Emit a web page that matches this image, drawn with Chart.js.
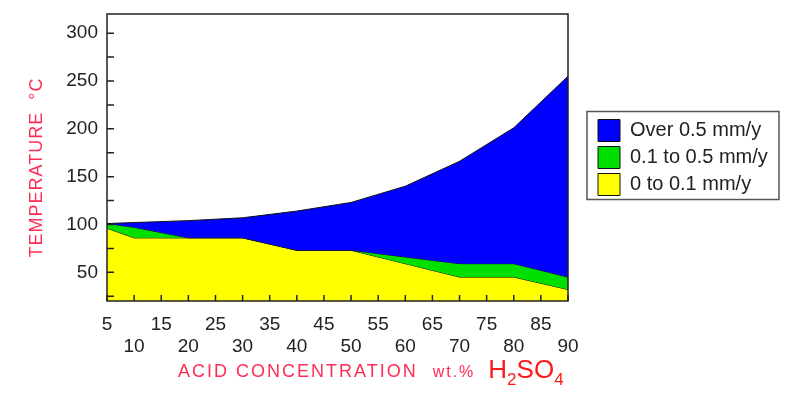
<!DOCTYPE html>
<html>
<head>
<meta charset="utf-8">
<script src="https://cdn.jsdelivr.net/npm/chart.js@4.4.1/dist/chart.umd.min.js"></script>
<style>
  html, body { margin: 0; padding: 0; background: #fff; }
</style>
</head>
<body>
<canvas id="chart" width="800" height="395"></canvas>
<script>
  // acid concentration, wt.% H2SO4
  var concentration = [5, 10, 20, 30, 40, 50, 60, 70, 80, 90];
  // upper temperature limit of each corrosion band, degC
  var lowRate = [96, 86, 86, 86, 73, 73, 59, 45, 45, 32];          // 0 to 0.1 mm/y
  var midRate = [101, 97, 86, 86, 73, 73, 66, 59, 59, 45];         // 0.1 to 0.5 mm/y
  var highRate = [101, 102, 104, 107, 114, 123, 140, 166, 201, 255]; // over 0.5 mm/y

  var xTicks = [5, 10, 15, 20, 25, 30, 35, 40, 45, 50, 55, 60, 65, 70, 75, 80, 85, 90];
  var yTicks = [50, 100, 150, 200, 250, 300];
  var yMinorTicks = [25, 75, 125, 175, 225, 275];

  var FONT = '"Liberation Sans", Arial, sans-serif';
  var TITLE_RED = '#ff2d55';

  function points(values) {
    return concentration.map(function (x, i) {
      return { x: x, y: values[i] };
    });
  }

  var framePlugin = {
    id: 'frame',
    afterInit: function (chart) {
      var legend = chart.legend;
      var fit = legend.fit;
      legend.fit = function () {
        fit.call(this);
        this.width = 232;
      };
    },
    afterLayout: function (chart) {
      var legend = chart.legend;
      legend.left = chart.chartArea.right + 25;
      legend.right = legend.left + legend.width;
    },
    afterDatasetsDraw: function (chart) {
      var ctx = chart.ctx, a = chart.chartArea;
      var xs = chart.scales.x, ys = chart.scales.y;
      ctx.save();
      ctx.strokeStyle = '#222';
      ctx.lineWidth = 1.5;
      ctx.beginPath();
      xTicks.forEach(function (v) {
        var px = xs.getPixelForValue(v);
        ctx.moveTo(px, a.bottom);
        ctx.lineTo(px, a.bottom - 6);
      });
      yTicks.concat(yMinorTicks).forEach(function (v) {
        var py = ys.getPixelForValue(v);
        ctx.moveTo(a.left, py);
        ctx.lineTo(a.left + 7, py);
      });
      ctx.stroke();
      ctx.strokeRect(a.left, a.top, a.right - a.left, a.bottom - a.top);
      ctx.restore();
    },
    afterDraw: function (chart) {
      var ctx = chart.ctx, a = chart.chartArea;
      var boxes = chart.legend.legendHitBoxes;
      ctx.save();

      // legend frame
      var first = boxes[0], last = boxes[boxes.length - 1];
      ctx.strokeStyle = '#555';
      ctx.lineWidth = 1.5;
      ctx.strokeRect(chart.legend.left - 6, first.top - 8, 192, last.top + last.height - first.top + 12);

      // y title
      ctx.fillStyle = TITLE_RED;
      ctx.translate(a.left - 70, (a.top + a.bottom) / 2 + 10);
      ctx.rotate(-Math.PI / 2);
      ctx.font = '18px ' + FONT;
      ctx.letterSpacing = '1px';
      ctx.textAlign = 'center';
      ctx.textBaseline = 'middle';
      ctx.fillText('TEMPERATURE  \u00b0C', 0, 0);
      ctx.restore();

      // x title
      ctx.save();
      var x = a.left + 71, base = a.bottom + 76;
      ctx.textBaseline = 'alphabetic';
      ctx.fillStyle = TITLE_RED;
      ctx.font = '18px ' + FONT;
      ctx.letterSpacing = '2px';
      ctx.fillText('ACID CONCENTRATION', x, base);
      x += ctx.measureText('ACID CONCENTRATION').width + 15;
      ctx.font = '16px ' + FONT;
      ctx.letterSpacing = '2px';
      ctx.fillText('wt.%', x, base);
      x += ctx.measureText('wt.%').width + 13;
      ctx.letterSpacing = '0px';
      ctx.fillStyle = '#ff1a1a';
      var parts = [['H', 26, 0], ['2', 17, 7], ['SO', 26, 0], ['4', 17, 7]];
      parts.forEach(function (p) {
        ctx.font = p[1] + 'px ' + FONT;
        ctx.fillText(p[0], x, base + 1 + p[2]);
        x += ctx.measureText(p[0]).width;
      });
      ctx.restore();
    }
  };

  var ctx = document.getElementById('chart');
  new Chart(ctx, {
    type: 'line',
    data: {
      datasets: [
        {
          label: 'Over 0.5 mm/y',
          data: points(highRate),
          backgroundColor: '#0000ff',
          borderColor: '#111',
          borderWidth: 1,
          fill: '+1'
        },
        {
          label: '0.1 to 0.5 mm/y',
          data: points(midRate),
          backgroundColor: '#00e000',
          borderColor: '#111',
          borderWidth: 1,
          fill: '+1'
        },
        {
          label: '0 to 0.1 mm/y',
          data: points(lowRate),
          backgroundColor: '#ffff00',
          borderColor: '#111',
          borderWidth: 1,
          fill: 'start'
        }
      ]
    },
    options: {
      responsive: false,
      animation: false,
      layout: { padding: { top: 14, left: 0, right: 0, bottom: 0 } },
      elements: {
        point: { radius: 0 },
        line: { tension: 0 }
      },
      scales: {
        x: {
          type: 'linear',
          min: 5,
          max: 90,
          grid: { display: false, drawTicks: false },
          border: { display: false },
          afterBuildTicks: function (scale) {
            scale.ticks = xTicks.map(function (v) { return { value: v }; });
          },
          afterFit: function (scale) {
            scale.height = 94;
            scale.paddingLeft = 0;
            scale.paddingRight = 0;
          },
          ticks: {
            autoSkip: false,
            maxRotation: 0,
            minRotation: 0,
            padding: 12,
            color: '#222',
            font: { family: FONT, size: 19 },
            callback: function (v) {
              return v % 10 === 5 ? String(v) : ['', String(v)];
            }
          }
        },
        y: {
          min: 20,
          max: 320,
          grid: { display: false, drawTicks: false },
          border: { display: false },
          afterBuildTicks: function (scale) {
            scale.ticks = yTicks.map(function (v) { return { value: v }; });
          },
          afterFit: function (scale) {
            scale.width = 107;
            scale.paddingTop = 0;
            scale.paddingBottom = 0;
          },
          ticks: {
            padding: 9,
            color: '#222',
            font: { family: FONT, size: 19 }
          }
        }
      },
      plugins: {
        tooltip: { enabled: false },
        legend: {
          position: 'right',
          fullSize: false,
          labels: {
            boxWidth: 22,
            boxHeight: 22,
            padding: 5,
            color: '#222',
            font: { family: FONT, size: 20 }
          }
        }
      }
    },
    plugins: [framePlugin]
  });
</script>
</body>
</html>
